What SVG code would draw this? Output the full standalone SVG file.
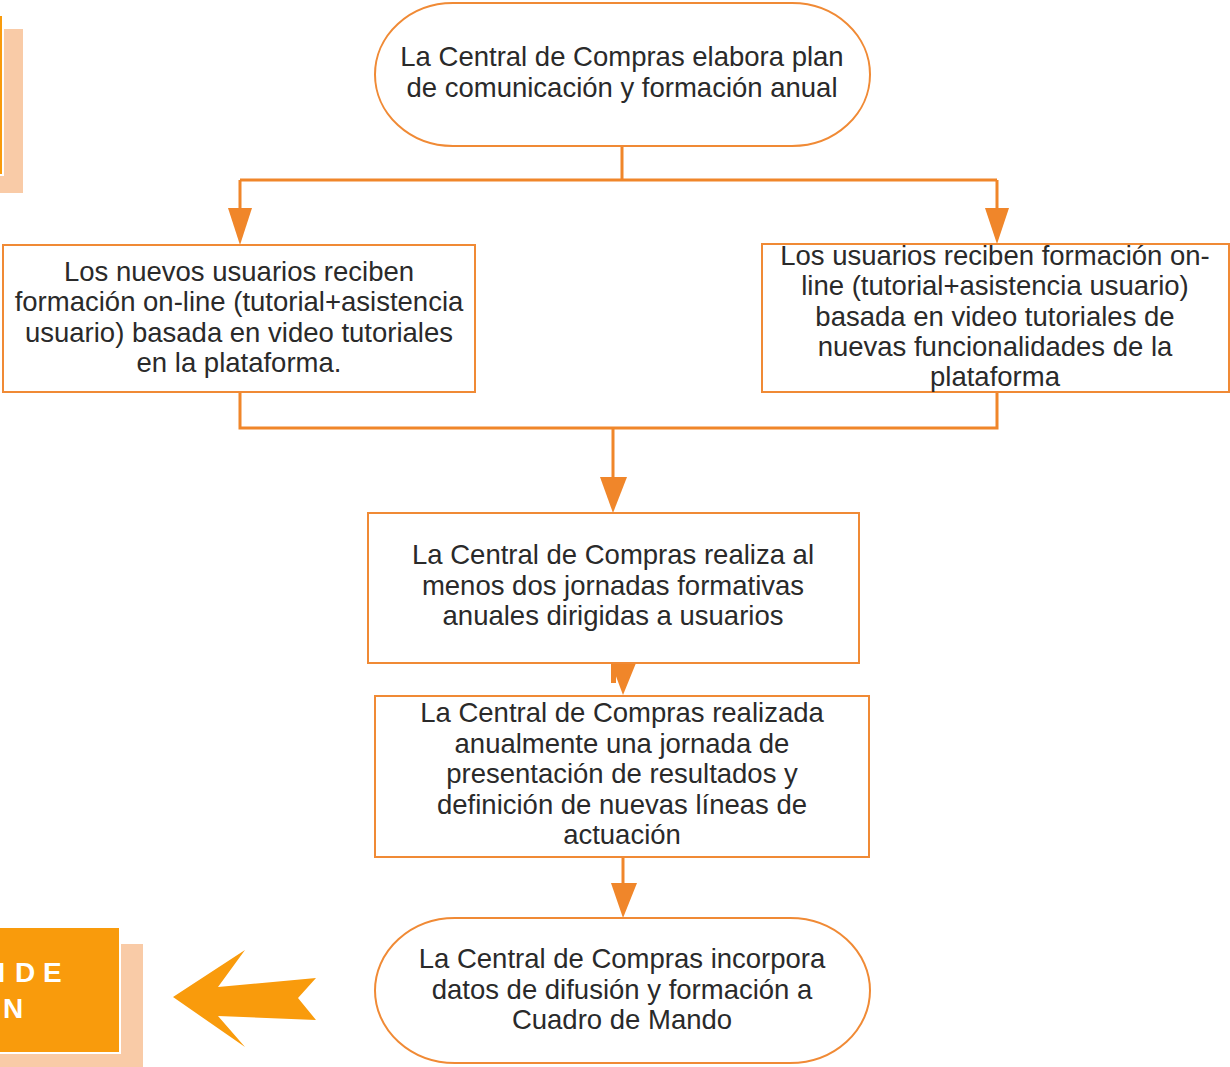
<svg xmlns="http://www.w3.org/2000/svg" width="1230" height="1067" viewBox="0 0 1230 1067">
<style>
.box{fill:#fff;stroke:#F08A35;stroke-width:2}
.t{font-family:"Liberation Sans",Arial,sans-serif;font-size:27.5px;fill:#2a2a2a;text-anchor:middle}
.c{fill:none;stroke:#F0862A;stroke-width:3}
.ah{fill:#F0862A}
.side{fill:#F99B0C;stroke:#fff;stroke-width:2}
.shadow{fill:#F9CBA7}
.wt{font-family:"Liberation Sans",Arial,sans-serif;font-size:28px;font-weight:bold;fill:#fff}
</style>
<rect width="1230" height="1067" fill="#fff"/>
<g id="side-top">
<rect class="shadow" x="-20" y="29" width="43" height="164"/>
<rect class="side" x="-40" y="15" width="43" height="160"/>
</g>
<g id="side-bottom">
<rect class="shadow" x="-10" y="944" width="153" height="130"/>
<rect class="side" x="-30" y="927" width="150" height="126"/>
<text class="wt" x="-15 7 15 43" y="982">N DE</text>
<text class="wt" x="3" y="1018">N</text>
</g>
<g id="big-arrow">
<polygon points="173,997 245,950 218,987 316,978 298,998 316,1020 218,1016 245,1047" fill="#F99B0C"/>
</g>
<g id="connectors">
<path class="c" d="M622 146 V180 M240 180 H997 M240 180 V212 M997 180 V212"/>
<polygon class="ah" points="228,208 252,208 240,245"/>
<polygon class="ah" points="985,208 1009,208 997,244"/>
<path class="c" d="M240 392 V428 H997 V392 M613 428 V480"/>
<polygon class="ah" points="600,477 627,477 613,513"/>
<polygon class="ah" points="611,663 636,663 623,695"/>
<rect class="ah" x="611" y="663" width="5" height="20"/>
<path class="c" d="M623 857 V886"/>
<polygon class="ah" points="611,883 637,883 623,918"/>
</g>
<g id="n1">
<rect class="box" x="375" y="3" width="495" height="143" rx="78" ry="71.5"/>
<text class="t" x="622" y="66">La Central de Compras elabora plan</text>
<text class="t" x="622" y="97">de comunicación y formación anual</text>
</g>
<g id="n2">
<rect class="box" x="3" y="245" width="472" height="147"/>
<text class="t" x="239" y="281">Los nuevos usuarios reciben</text>
<text class="t" x="239" y="311">formación on-line (tutorial+asistencia</text>
<text class="t" x="239" y="342">usuario) basada en video tutoriales</text>
<text class="t" x="239" y="372">en la plataforma.</text>
</g>
<g id="n3">
<rect class="box" x="762" y="244" width="467" height="148"/>
<text class="t" x="995" y="265">Los usuarios reciben formación on-</text>
<text class="t" x="995" y="295">line (tutorial+asistencia usuario)</text>
<text class="t" x="995" y="326">basada en video tutoriales de</text>
<text class="t" x="995" y="356">nuevas funcionalidades de la</text>
<text class="t" x="995" y="386">plataforma</text>
</g>
<g id="n4">
<rect class="box" x="368" y="513" width="491" height="150"/>
<text class="t" x="613" y="564">La Central de Compras realiza al</text>
<text class="t" x="613" y="595">menos dos jornadas formativas</text>
<text class="t" x="613" y="625">anuales dirigidas a usuarios</text>
</g>
<g id="n5">
<rect class="box" x="375" y="696" width="494" height="161"/>
<text class="t" x="622" y="722">La Central de Compras realizada</text>
<text class="t" x="622" y="753">anualmente una jornada de</text>
<text class="t" x="622" y="783">presentación de resultados y</text>
<text class="t" x="622" y="814">definición de nuevas líneas de</text>
<text class="t" x="622" y="844">actuación</text>
</g>
<g id="n6">
<rect class="box" x="375" y="918" width="495" height="145" rx="80" ry="72.5"/>
<text class="t" x="622" y="968">La Central de Compras incorpora</text>
<text class="t" x="622" y="999">datos de difusión y formación a</text>
<text class="t" x="622" y="1029">Cuadro de Mando</text>
</g>
</svg>
